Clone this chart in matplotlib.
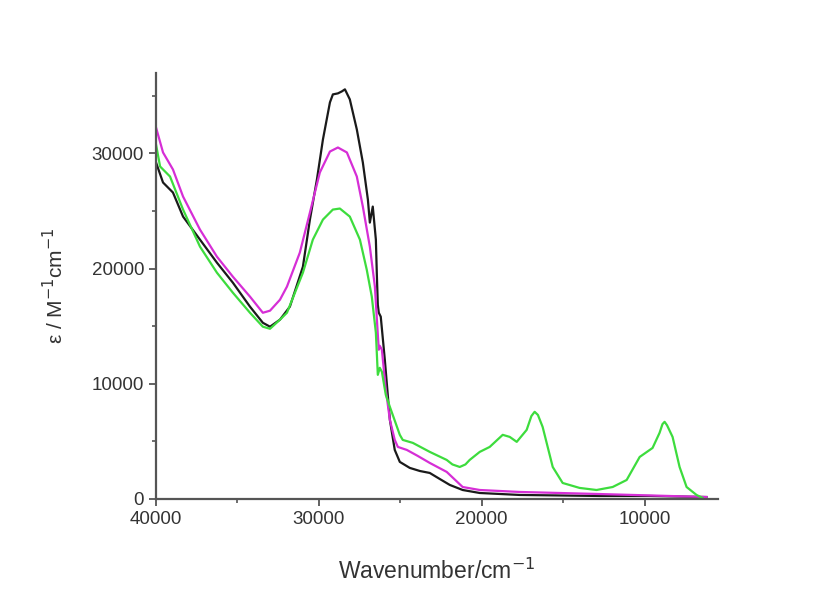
import numpy as np
import matplotlib.pyplot as plt
from matplotlib.ticker import MultipleLocator

plt.rcParams['font.family'] = ['Liberation Sans', 'DejaVu Sans']

# black spectrum
black_x = [40000, 39570, 38960, 38340, 37300, 36260, 35280, 34230, 33440, 33000,
           32390, 31780, 30980, 30550, 30120, 29750, 29320, 29140, 28830, 28590,
           28400, 28100, 27670, 27300, 26990, 26870, 26690, 26500, 26440, 26380,
           26320, 26200, 25950, 25640, 25340, 25030, 24420, 23800, 23190, 22580,
           21960, 21170, 20120, 17670, 12760, 9700, 6200]
black_y = [29220, 27480, 26610, 24520, 22520, 20520, 18780, 16700, 15300, 14960,
           15570, 16700, 20170, 24260, 27740, 31220, 34440, 35130, 35220, 35390,
           35570, 34700, 32090, 29220, 26000, 24000, 25390, 22520, 19480, 16870,
           16170, 15830, 12090, 6870, 4260, 3220, 2700, 2430, 2260, 1740,
           1220, 780, 520, 350, 260, 260, 170]

# magenta spectrum
pink_x = [40000, 39570, 38960, 38340, 37300, 36260, 35280, 34230, 33440, 33000,
          32390, 31960, 31170, 30550, 29940, 29320, 28830, 28280, 27670, 27300,
          26870, 26560, 26380, 26320, 26260, 26130, 25890, 25640, 25340, 25150,
          24600, 23930, 23190, 22150, 21170, 20120, 17670, 12760, 6200]
pink_y = [32260, 30090, 28610, 26260, 23390, 21040, 19300, 17570, 16170, 16350,
          17300, 18440, 21390, 24870, 28350, 30170, 30520, 30090, 28000, 25390,
          21910, 18440, 14260, 12960, 13300, 12960, 9480, 6870, 5130, 4520,
          4260, 3740, 3130, 2350, 1040, 780, 610, 430, 170]

# green spectrum
green_x = [40000, 39750, 39140, 38340, 37300, 36260, 35280, 34230, 33440, 33000,
           32390, 31960, 30980, 30370, 29750, 29140, 28710, 28100, 27480, 27060,
           26750, 26500, 26380, 26260, 26130, 25890, 25640, 25030, 24850, 24230,
           23190, 22150, 21800, 21350, 21000, 20740, 20120, 19510, 18710, 18280,
           17850, 17240, 16950, 16750, 16550, 16260, 15640, 15030, 13990, 12950,
           11960, 11100, 10300, 9510, 9080, 8900, 8770, 8620, 8280, 7850,
           7420, 6810, 6440]
green_y = [30780, 28870, 28000, 25130, 21910, 19650, 17910, 16170, 14960, 14780,
           15570, 16170, 19650, 22520, 24260, 25130, 25220, 24520, 22520, 19910,
           17570, 14440, 10780, 11390, 11040, 9040, 8000, 5570, 5130, 4870,
           4090, 3390, 3000, 2780, 3000, 3390, 4090, 4520, 5570, 5390,
           4960, 6000, 7200, 7570, 7300, 6260, 2780, 1390, 960, 780,
           1040, 1650, 3650, 4430, 5740, 6500, 6700, 6400, 5390, 2780,
           1040, 350, 90]

fig = plt.figure(figsize=(8.19, 5.91), dpi=100)
ax = fig.add_axes([0.1905, 0.1557, 0.686, 0.721])

ax.plot(black_x, black_y, color='#1a1a1a', lw=1.6)
ax.plot(pink_x, pink_y, color='#d62ed6', lw=1.6)
ax.plot(green_x, green_y, color='#3ddc3d', lw=1.6)

ax.set_xlim(40000, 5500)
ax.set_ylim(0, 37000)

for s in ['top', 'right']:
    ax.spines[s].set_visible(False)
for s in ['left', 'bottom']:
    ax.spines[s].set_color('#555555')
    ax.spines[s].set_linewidth(1.6)

ax.xaxis.set_major_locator(MultipleLocator(10000))
ax.xaxis.set_minor_locator(MultipleLocator(5000))
ax.yaxis.set_major_locator(MultipleLocator(10000))
ax.yaxis.set_minor_locator(MultipleLocator(5000))
ax.tick_params(which='major', direction='out', length=5, width=1.3,
               color='#555555', labelsize=13.5, labelcolor='#333333')
ax.tick_params(which='minor', direction='out', length=3, width=1.2,
               color='#555555')

ax.set_xlabel('Wavenumber/cm$^{-1}$', fontsize=16.5, color='#333333', labelpad=22)
ax.set_ylabel('ε / M$^{-1}$cm$^{-1}$', fontsize=15, color='#333333', labelpad=18)

fig.savefig('out.png', dpi=100)
